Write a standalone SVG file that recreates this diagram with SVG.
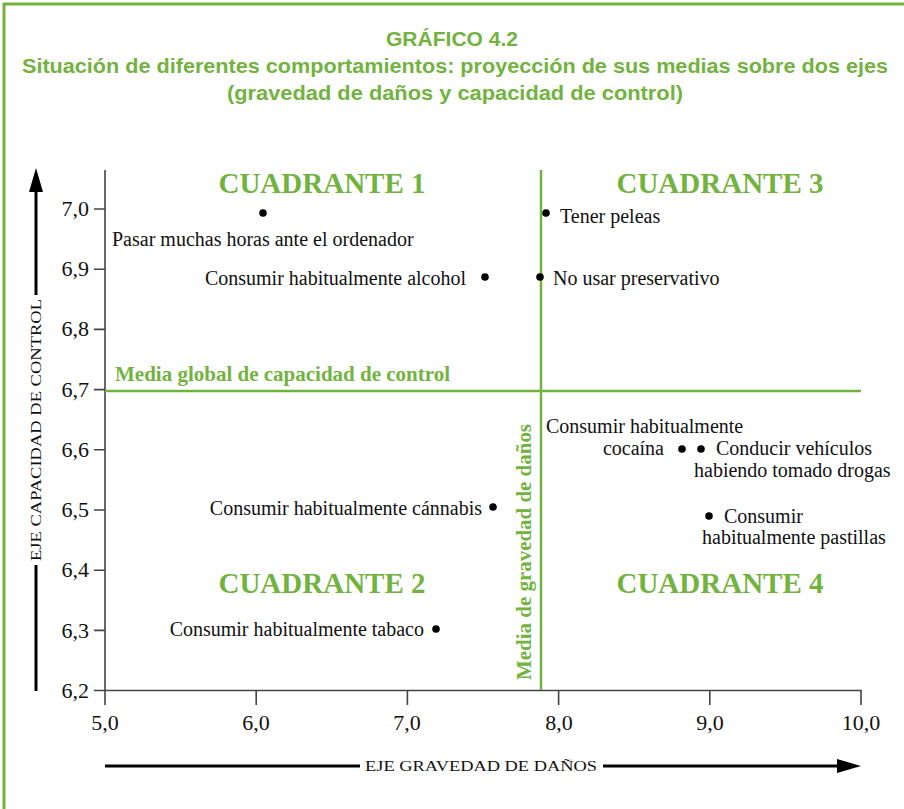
<svg xmlns="http://www.w3.org/2000/svg" width="904" height="809" viewBox="0 0 904 809">
<style>
.title{font-family:"Liberation Sans",Arial,sans-serif;font-weight:bold;font-size:21px;fill:#72b340;text-anchor:middle}
.quad{font-family:"Liberation Serif","Times New Roman",serif;font-weight:bold;font-size:29px;fill:#72b340;text-anchor:middle}
.mean{font-family:"Liberation Serif","Times New Roman",serif;font-weight:bold;font-size:21px;fill:#72b340}
.tick{font-family:"Liberation Serif","Times New Roman",serif;font-size:22px;fill:#111}
.lbl{font-family:"Liberation Serif","Times New Roman",serif;font-size:20px;fill:#111}
.axt{font-family:"Liberation Serif","Times New Roman",serif;font-size:15px;fill:#111}
.ax{stroke:#444;stroke-width:1.6;fill:none}
.gl{stroke:#72b340;stroke-width:2.5;fill:none}
.arr{stroke:#000;stroke-width:3;fill:none}
.dot{fill:#000}
</style>
<rect x="0" y="0" width="904" height="809" fill="#fff"/>
<path d="M4 809 V4 H904" stroke="#72b340" stroke-width="3" fill="none"/>
<g id="title">
<text class="title" x="452" y="46" textLength="132" lengthAdjust="spacingAndGlyphs">GRÁFICO 4.2</text>
<text class="title" x="455" y="73" textLength="866" lengthAdjust="spacingAndGlyphs">Situación de diferentes comportamientos: proyección de sus medias sobre dos ejes</text>
<text class="title" x="455" y="100" textLength="456" lengthAdjust="spacingAndGlyphs">(gravedad de daños y capacidad de control)</text>
</g>
<g id="axes">
<path class="ax" d="M105 170 V705 M94 690.5 H861 V705"/>
<path class="ax" d="M94 209 H105 M94 269.2 H105 M94 329.4 H105 M94 389.6 H105 M94 449.8 H105 M94 510 H105 M94 570.2 H105 M94 630.4 H105"/>
<path class="ax" d="M256.2 690.5 V705 M407.4 690.5 V705 M558.6 690.5 V705 M709.8 690.5 V705"/>
<g class="tick" text-anchor="end">
<text x="89" y="216">7,0</text>
<text x="89" y="276">6,9</text>
<text x="89" y="336">6,8</text>
<text x="89" y="397">6,7</text>
<text x="89" y="457">6,6</text>
<text x="89" y="517">6,5</text>
<text x="89" y="577">6,4</text>
<text x="89" y="638">6,3</text>
<text x="89" y="698">6,2</text>
</g>
<g class="tick" text-anchor="middle">
<text x="105" y="730">5,0</text>
<text x="256" y="730">6,0</text>
<text x="407" y="730">7,0</text>
<text x="559" y="730">8,0</text>
<text x="710" y="730">9,0</text>
<text x="861" y="730">10,0</text>
</g>
</g>
<g id="axis-y-arrow">
<path class="arr" d="M36 190 V295 M36 565 V691"/>
<polygon points="36,168 29,192 43,192" fill="#000"/>
<text class="axt" transform="translate(41 430) rotate(-90)" text-anchor="middle" textLength="262" lengthAdjust="spacingAndGlyphs">EJE CAPACIDAD DE CONTROL</text>
</g>
<g id="axis-x-arrow">
<path class="arr" d="M105 766 H360 M603 766 H842"/>
<polygon points="861,766 837,759 837,773" fill="#000"/>
<text class="axt" x="481" y="771" text-anchor="middle" textLength="232" lengthAdjust="spacingAndGlyphs">EJE GRAVEDAD DE DAÑOS</text>
</g>
<g id="mean-lines">
<path class="gl" d="M105 391 H861 M541 170 V690"/>
<text class="mean" x="115" y="381">Media global de capacidad de control</text>
<text class="mean" transform="translate(531 680) rotate(-90)" textLength="256" lengthAdjust="spacingAndGlyphs">Media de gravedad de daños</text>
</g>
<g id="quadrants">
<text class="quad" x="322" y="193">CUADRANTE 1</text>
<text class="quad" x="720" y="193">CUADRANTE 3</text>
<text class="quad" x="322" y="593">CUADRANTE 2</text>
<text class="quad" x="720" y="593">CUADRANTE 4</text>
</g>
<g id="p-ordenador"><circle class="dot" cx="263" cy="213" r="3.8"/><text class="lbl" x="112" y="246">Pasar muchas horas ante el ordenador</text></g>
<g id="p-alcohol"><circle class="dot" cx="485" cy="277" r="3.8"/><text class="lbl" x="466" y="285" text-anchor="end">Consumir habitualmente alcohol</text></g>
<g id="p-peleas"><circle class="dot" cx="546" cy="213" r="3.8"/><text class="lbl" x="560" y="223">Tener peleas</text></g>
<g id="p-preservativo"><circle class="dot" cx="540" cy="277" r="3.8"/><text class="lbl" x="553" y="285">No usar preservativo</text></g>
<g id="p-cocaina"><circle class="dot" cx="682" cy="449" r="3.8"/><text class="lbl" x="546" y="433">Consumir habitualmente</text><text class="lbl" x="664" y="455" text-anchor="end">cocaína</text></g>
<g id="p-conducir"><circle class="dot" cx="701" cy="449" r="3.8"/><text class="lbl" x="716" y="455">Conducir vehículos</text><text class="lbl" x="694" y="477">habiendo tomado drogas</text></g>
<g id="p-pastillas"><circle class="dot" cx="709" cy="516" r="3.8"/><text class="lbl" x="724" y="523">Consumir</text><text class="lbl" x="702" y="544">habitualmente pastillas</text></g>
<g id="p-cannabis"><circle class="dot" cx="493" cy="507" r="3.8"/><text class="lbl" x="482" y="515" text-anchor="end">Consumir habitualmente cánnabis</text></g>
<g id="p-tabaco"><circle class="dot" cx="436" cy="629" r="3.8"/><text class="lbl" x="424" y="636" text-anchor="end">Consumir habitualmente tabaco</text></g>
</svg>
